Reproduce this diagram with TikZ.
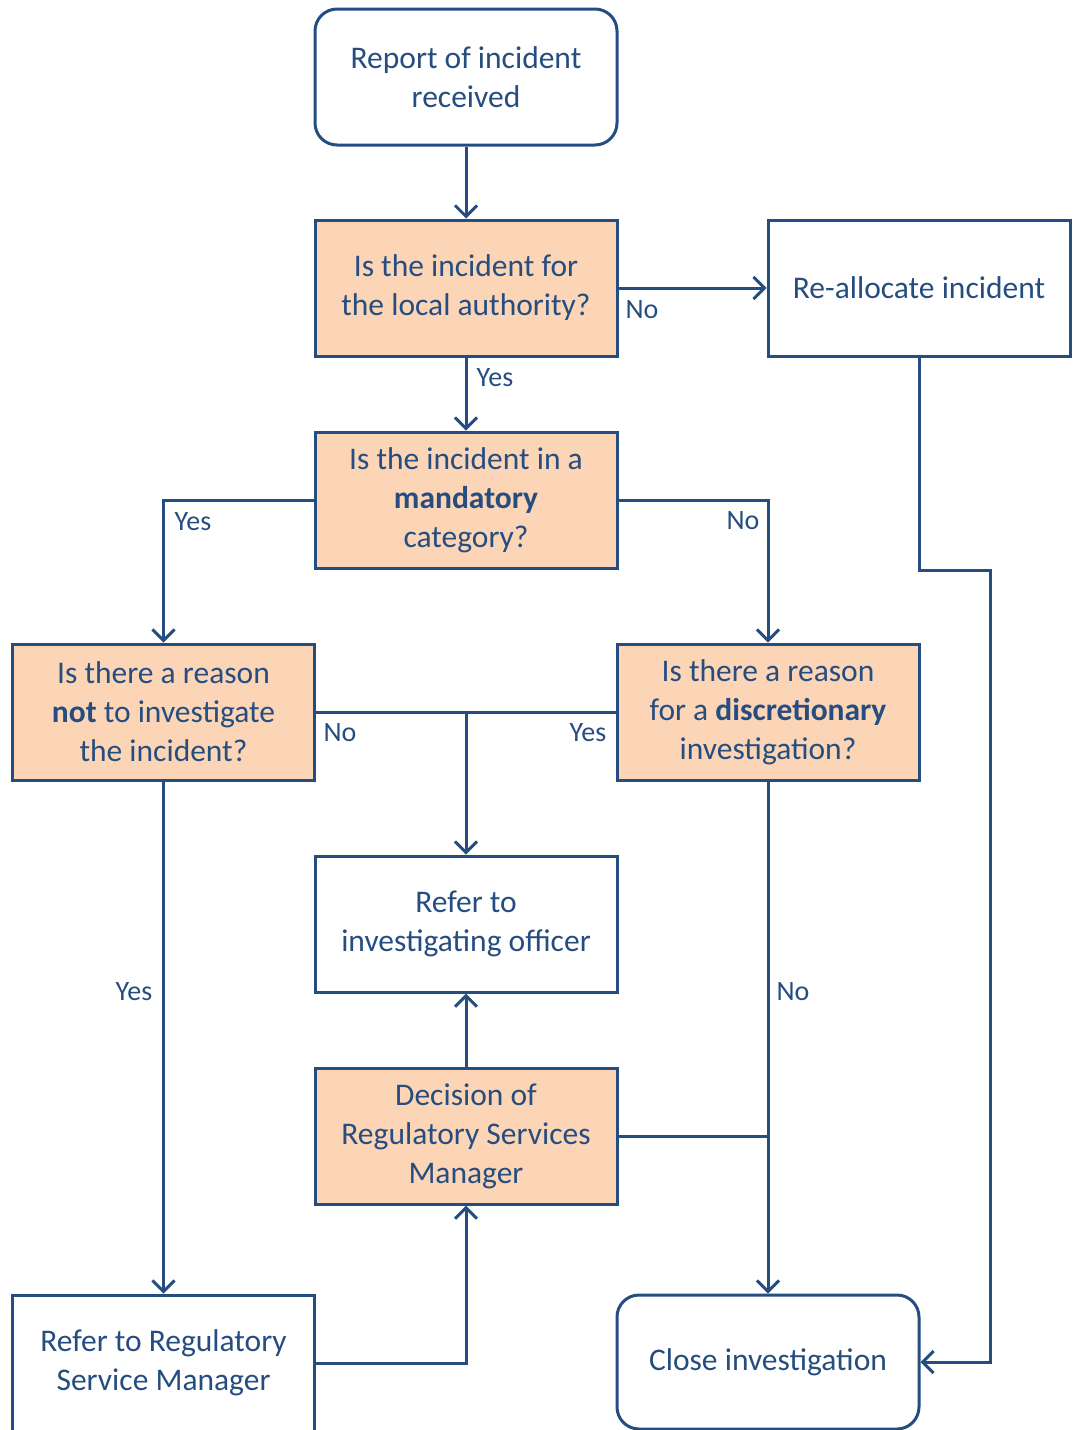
\documentclass[tikz,border=0pt]{standalone}
\usepackage{fontspec}
\setmainfont{Carlito}
\usetikzlibrary{arrows.meta}
\definecolor{fcblue}{HTML}{264D80}
\definecolor{peach}{HTML}{FBD5B5}
\tikzset{
  box/.style={draw=fcblue, line width=3pt, minimum width=302pt, minimum height=136pt, inner sep=0pt, align=center, text=fcblue, font=\fontsize{31.5}{39}\selectfont},
  qbox/.style={box, fill=peach},
  rbox/.style={box, rounded corners=22pt},
  conn/.style={draw=fcblue, line width=3pt},
  arr/.style={conn, -{Straight Barb[length=11pt,width=22pt,line width=3pt]}},
  lbl/.style={text=fcblue, font=\fontsize{28}{30}\selectfont, inner sep=0pt}
}
\begin{document}
\begin{tikzpicture}[x=1pt,y=-1pt]
\useasboundingbox (0,0) rectangle (1072,1430);
\node[rbox] (report) at (466,77) {Report of incident\\received};
\node[qbox] (q1) at (466,288) {Is the incident for\\the local authority?};
\node[box] (realloc) at (919,288) {Re-allocate incident};
\node[qbox] (q2) at (466,500) {Is the incident in a\\\textbf{mandatory}\\category?};
\node[qbox] (q3) at (163.5,712) {Is there a reason\\\textbf{not} to investigate\\the incident?};
\node[qbox] (q4) at (768,712) {Is there a reason\\for a \textbf{discretionary}\\investigation?};
\node[box] (refer) at (466,924) {Refer to\\investigating officer};
\node[qbox] (decision) at (466,1136) {Decision of\\Regulatory Services\\Manager};
\node[box] (rsm) at (163.5,1363) {Refer to Regulatory\\Service Manager};
\node[rbox, minimum height=134pt] (close) at (768,1362) {Close investigation};

\coordinate (j1) at (466,712);
\coordinate (j2) at (768,1136);
\coordinate (r1) at (919,570);
\coordinate (r2) at (990,570);
\coordinate (r3) at (990,1362);

\draw[arr] (report) -- (q1);
\draw[arr] (q1) -- (realloc);
\draw[arr] (q1) -- (q2);
\draw[arr] (q2.west) -| (q3.north);
\draw[arr] (q2.east) -| (q4.north);
\draw[conn] (q3.east) -- (j1);
\draw[conn] (q4.west) -- (j1);
\draw[arr] (j1) -- (refer.north);
\draw[arr] (q3.south) -- (rsm.north);
\draw[arr] (q4.south) -- (close.north);
\draw[conn] (decision.east) -- (j2);
\draw[arr] (decision.north) -- (refer.south);
\draw[arr] (rsm.east) -| (decision.south);
\draw[arr] (realloc.south) -- (r1) -- (r2) -- (r3) -- (close.east);

\node[lbl] (l1) at (642,310) {No};
\node[lbl] (l2) at (495,378) {Yes};
\node[lbl] (l3) at (193,522) {Yes};
\node[lbl] (l4) at (743,521) {No};
\node[lbl] (l5) at (340,733) {No};
\node[lbl] (l6) at (588,733) {Yes};
\node[lbl] (l7) at (134,992) {Yes};
\node[lbl] (l8) at (793,992) {No};
\end{tikzpicture}
\end{document}
